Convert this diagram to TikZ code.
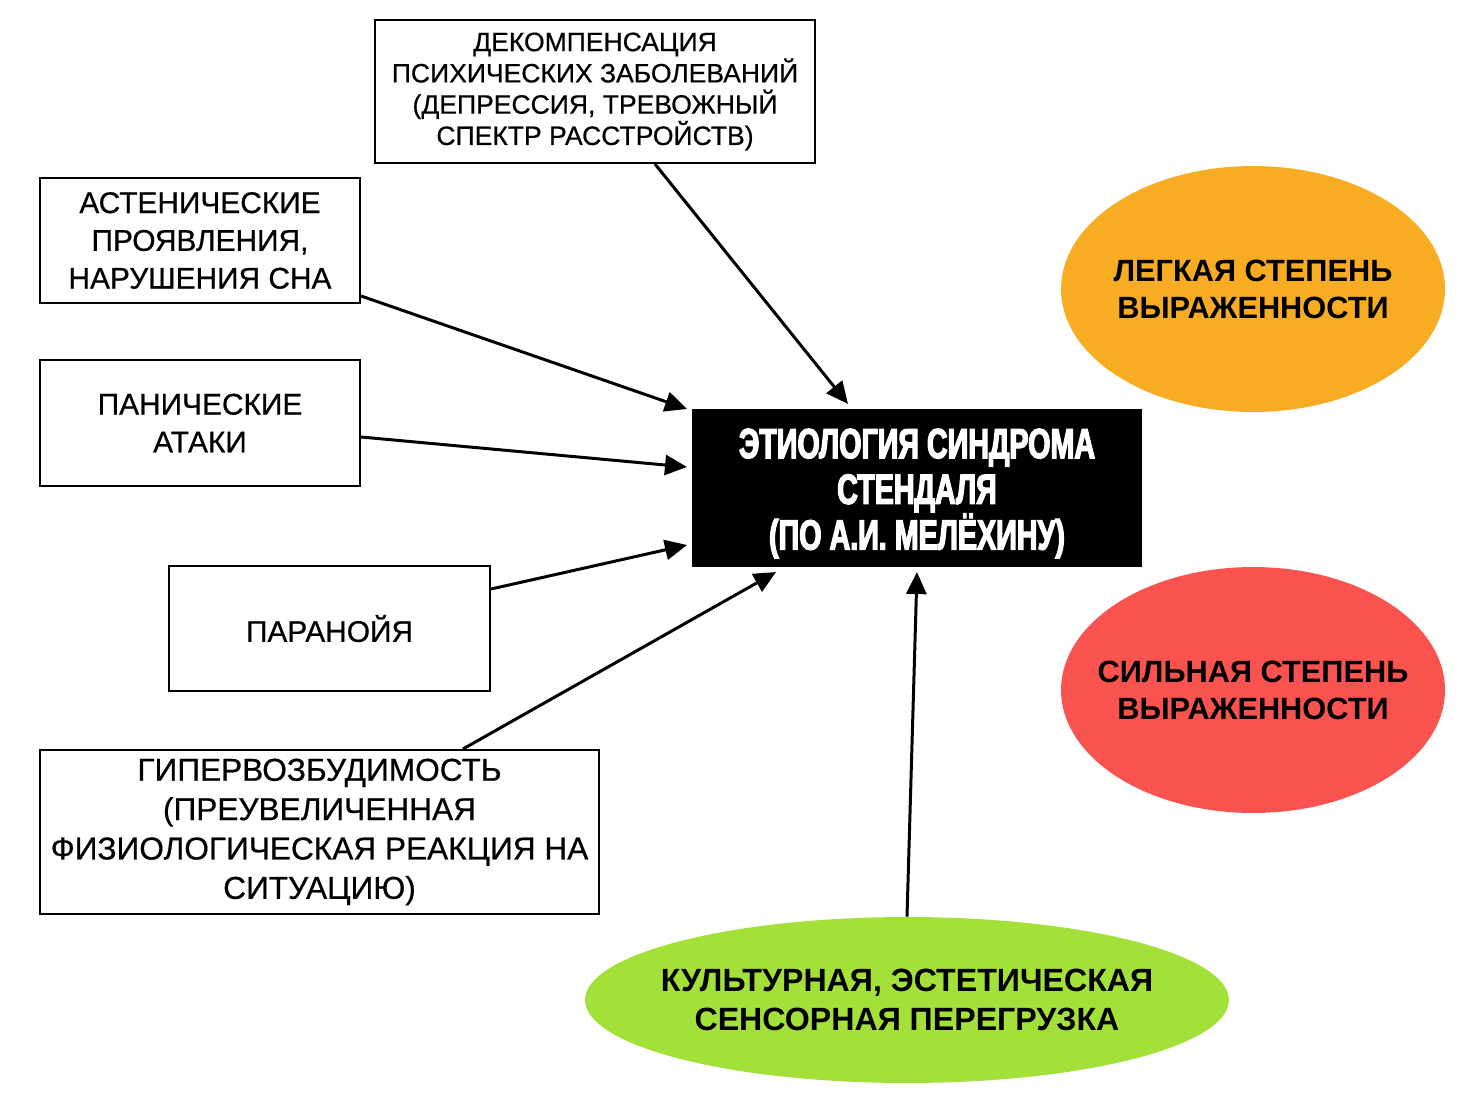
\documentclass[tikz,border=0pt]{standalone}
\usepackage{fontspec}
\setmainfont{Liberation Sans}
\newfontfamily\causefont[FakeBold=0.6]{Liberation Sans}
\newfontfamily\headfont[FakeStretch=0.68,FakeBold=3]{Liberation Sans}
\usetikzlibrary{positioning,arrows.meta,shapes}
\definecolor{mild}{HTML}{F7AC23}
\definecolor{severe}{HTML}{F9534F}
\definecolor{culture}{HTML}{A4E03A}

\begin{document}
\begin{tikzpicture}[
    x=0.02cm, y=-0.02cm,
    base/.style = {rectangle, draw=black, line width=1.2pt, align=center, inner sep=0pt},
    cause/.style = {base, font=\causefont\fontsize{17}{21.5}\selectfont},
    center/.style = {base, fill=black, text=white, font=\headfont\bfseries\fontsize{24}{26}\selectfont},
    degree/.style = {ellipse, draw=none, align=center, inner xsep=-1cm, inner ysep=-0.5cm, font=\bfseries\fontsize{17.5}{21}\selectfont},
    flow/.style = {line width=1.7pt, -{Triangle[length=0.44cm, width=0.4cm]}},
]
    \useasboundingbox (0,0) rectangle (1470,1095);

    % center
    \node[center, minimum width=8.96cm, minimum height=3.12cm] (etiology) at (917,488) {\rule{0pt}{23pt}ЭТИОЛОГИЯ СИНДРОМА\\ СТЕНДАЛЯ\\ (ПО А.И. МЕЛЁХИНУ)};

    % causes
    \node[cause, minimum width=8.8cm, minimum height=2.86cm, font=\causefont\fontsize{15.1}{17.8}\selectfont] (decomp) at (595,91.5) {ДЕКОМПЕНСАЦИЯ\\ ПСИХИЧЕСКИХ ЗАБОЛЕВАНИЙ\\ (ДЕПРЕССИЯ, ТРЕВОЖНЫЙ\\ СПЕКТР РАССТРОЙСТВ)};
    \node[cause, minimum width=6.4cm, minimum height=2.5cm] (asthenia) at (200,240.5) {АСТЕНИЧЕСКИЕ\\ ПРОЯВЛЕНИЯ,\\ НАРУШЕНИЯ СНА};
    \node[cause, minimum width=6.4cm, minimum height=2.52cm] (panic) at (200,423) {ПАНИЧЕСКИЕ\\ АТАКИ};
    \node[cause, minimum width=6.42cm, minimum height=2.5cm] (paranoia) at (329.5,628.5) {ПАРАНОЙЯ};
    \node[cause, minimum width=11.18cm, minimum height=3.28cm, font=\causefont\fontsize{18}{22.4}\selectfont] (hyper) at (319.5,832) {ГИПЕРВОЗБУДИМОСТЬ\\ (ПРЕУВЕЛИЧЕННАЯ\\ ФИЗИОЛОГИЧЕСКАЯ РЕАКЦИЯ НА\\ СИТУАЦИЮ)};

    % degrees
    \node[degree, fill=mild, minimum width=7.68cm, minimum height=4.92cm] (mild) at (1253,289) {ЛЕГКАЯ СТЕПЕНЬ\\ ВЫРАЖЕННОСТИ};
    \node[degree, fill=severe, minimum width=7.68cm, minimum height=4.92cm] (severe) at (1253,690) {СИЛЬНАЯ СТЕПЕНЬ\\ ВЫРАЖЕННОСТИ};
    \node[degree, fill=culture, minimum width=12.88cm, minimum height=3.32cm, font=\bfseries\fontsize{18.3}{22}\selectfont] (overload) at (907,1000) {КУЛЬТУРНАЯ, ЭСТЕТИЧЕСКАЯ\\ СЕНСОРНАЯ ПЕРЕГРУЗКА};

    % flows
    \draw[flow] ([xshift=1.2cm]decomp.south) -- ([xshift=-1.38cm, yshift=0.1cm]etiology.north);
    \draw[flow] ([yshift=-1.11cm]asthenia.east) -- ([xshift=-0.1cm]etiology.north west);
    \draw[flow] ([yshift=-0.28cm]panic.east) -- ([xshift=-0.1cm, yshift=0.42cm]etiology.west);
    \draw[flow] ([yshift=0.79cm]paranoia.east) -- ([xshift=-0.1cm, yshift=-1.14cm]etiology.west);
    \draw[flow] ([xshift=2.87cm]hyper.north) -- ([xshift=-2.82cm, yshift=-0.1cm]etiology.south);
    \draw[flow] (overload.north) -- ([yshift=-0.1cm]etiology.south);

\end{tikzpicture}
\end{document}
